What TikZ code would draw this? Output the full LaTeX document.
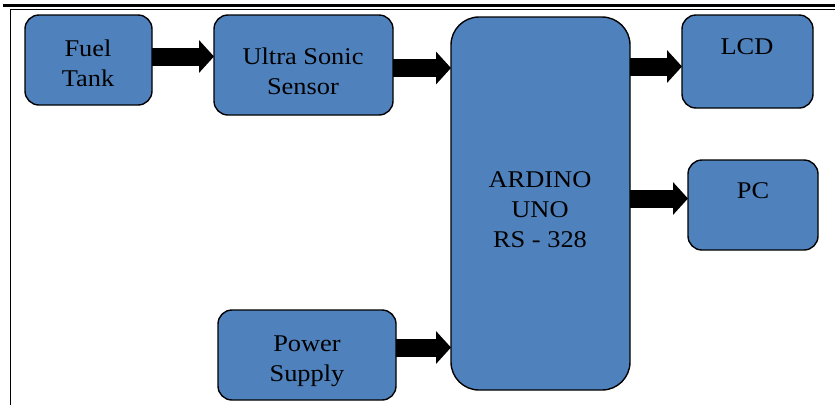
\documentclass[tikz,border=0pt]{standalone}
\usepackage{fontspec}
\setmainfont{Liberation Serif}[FakeStretch=1.1]
\usetikzlibrary{arrows.meta}
\definecolor{boxblue}{RGB}{79,129,189}
\tikzset{
  blk/.style={draw=black, fill=boxblue, line width=1.4pt, rounded corners=14pt,
    inner sep=0pt, outer sep=0pt},
  lbl/.style={align=center, inner sep=0pt, font=\fontsize{24pt}{30pt}\selectfont},
  barrow/.style={line width=18pt, draw=black,
    -{Triangle[width=32pt,length=15pt]}}
}
\begin{document}
\begin{tikzpicture}[x=1pt,y=-1pt]
\useasboundingbox (0,0) rectangle (835,405);
% page frame lines
\draw[line width=2.6pt] (3,5.3) coordinate (ftl) -- (835,5.3) coordinate (ftr);
\draw[line width=1pt] (10,9.3) coordinate (fl) -- (835,9.3) coordinate (fr);
\draw[line width=1pt] (10.2,9) coordinate (vl) -- (10.2,405) coordinate (vb);
% boxes
\node[blk, minimum width=127pt, minimum height=90pt] (fuel) at (88.5,60) {};
\node[blk, minimum width=179pt, minimum height=100pt] (ultra) at (303.5,65) {};
\node[blk, minimum width=179pt, minimum height=373pt, rounded corners=28pt] (uno) at (540.5,203.5) {};
\node[blk, minimum width=131pt, minimum height=93pt] (lcd) at (747.5,61.5) {};
\node[blk, minimum width=130pt, minimum height=90pt] (pc) at (753,205) {};
\node[blk, minimum width=178pt, minimum height=90pt] (power) at (307,355) {};
% texts
\node[lbl] (fueltext) at (88,63) {Fuel\\Tank};
\node[lbl] (ultratext) at (303,71) {Ultra Sonic\\Sensor};
\node[lbl] (unotext) at (540,210) {ARDINO\\UNO\\RS - 328};
\node[lbl] (lcdtext) at (747,47) {LCD};
\node[lbl] (pctext) at (753,191) {PC};
\node[lbl] (powertext) at (307,361) {Power\\Supply};
% arrow heights
\coordinate (y1) at (0,56.5);
\coordinate (y2) at (0,68);
\coordinate (y3) at (0,66.5);
\coordinate (y4) at (0,198.5);
\coordinate (y5) at (0,347.5);
% arrows
\draw[barrow] (fuel.east |- y1) -- (ultra.west |- y1);
\draw[barrow] (ultra.east |- y2) -- (uno.west |- y2);
\draw[barrow] (uno.east |- y3) -- (lcd.west |- y3);
\draw[barrow] (uno.east |- y4) -- (pc.west |- y4);
\draw[barrow] (power.east |- y5) -- (uno.west |- y5);
\end{tikzpicture}
\end{document}
